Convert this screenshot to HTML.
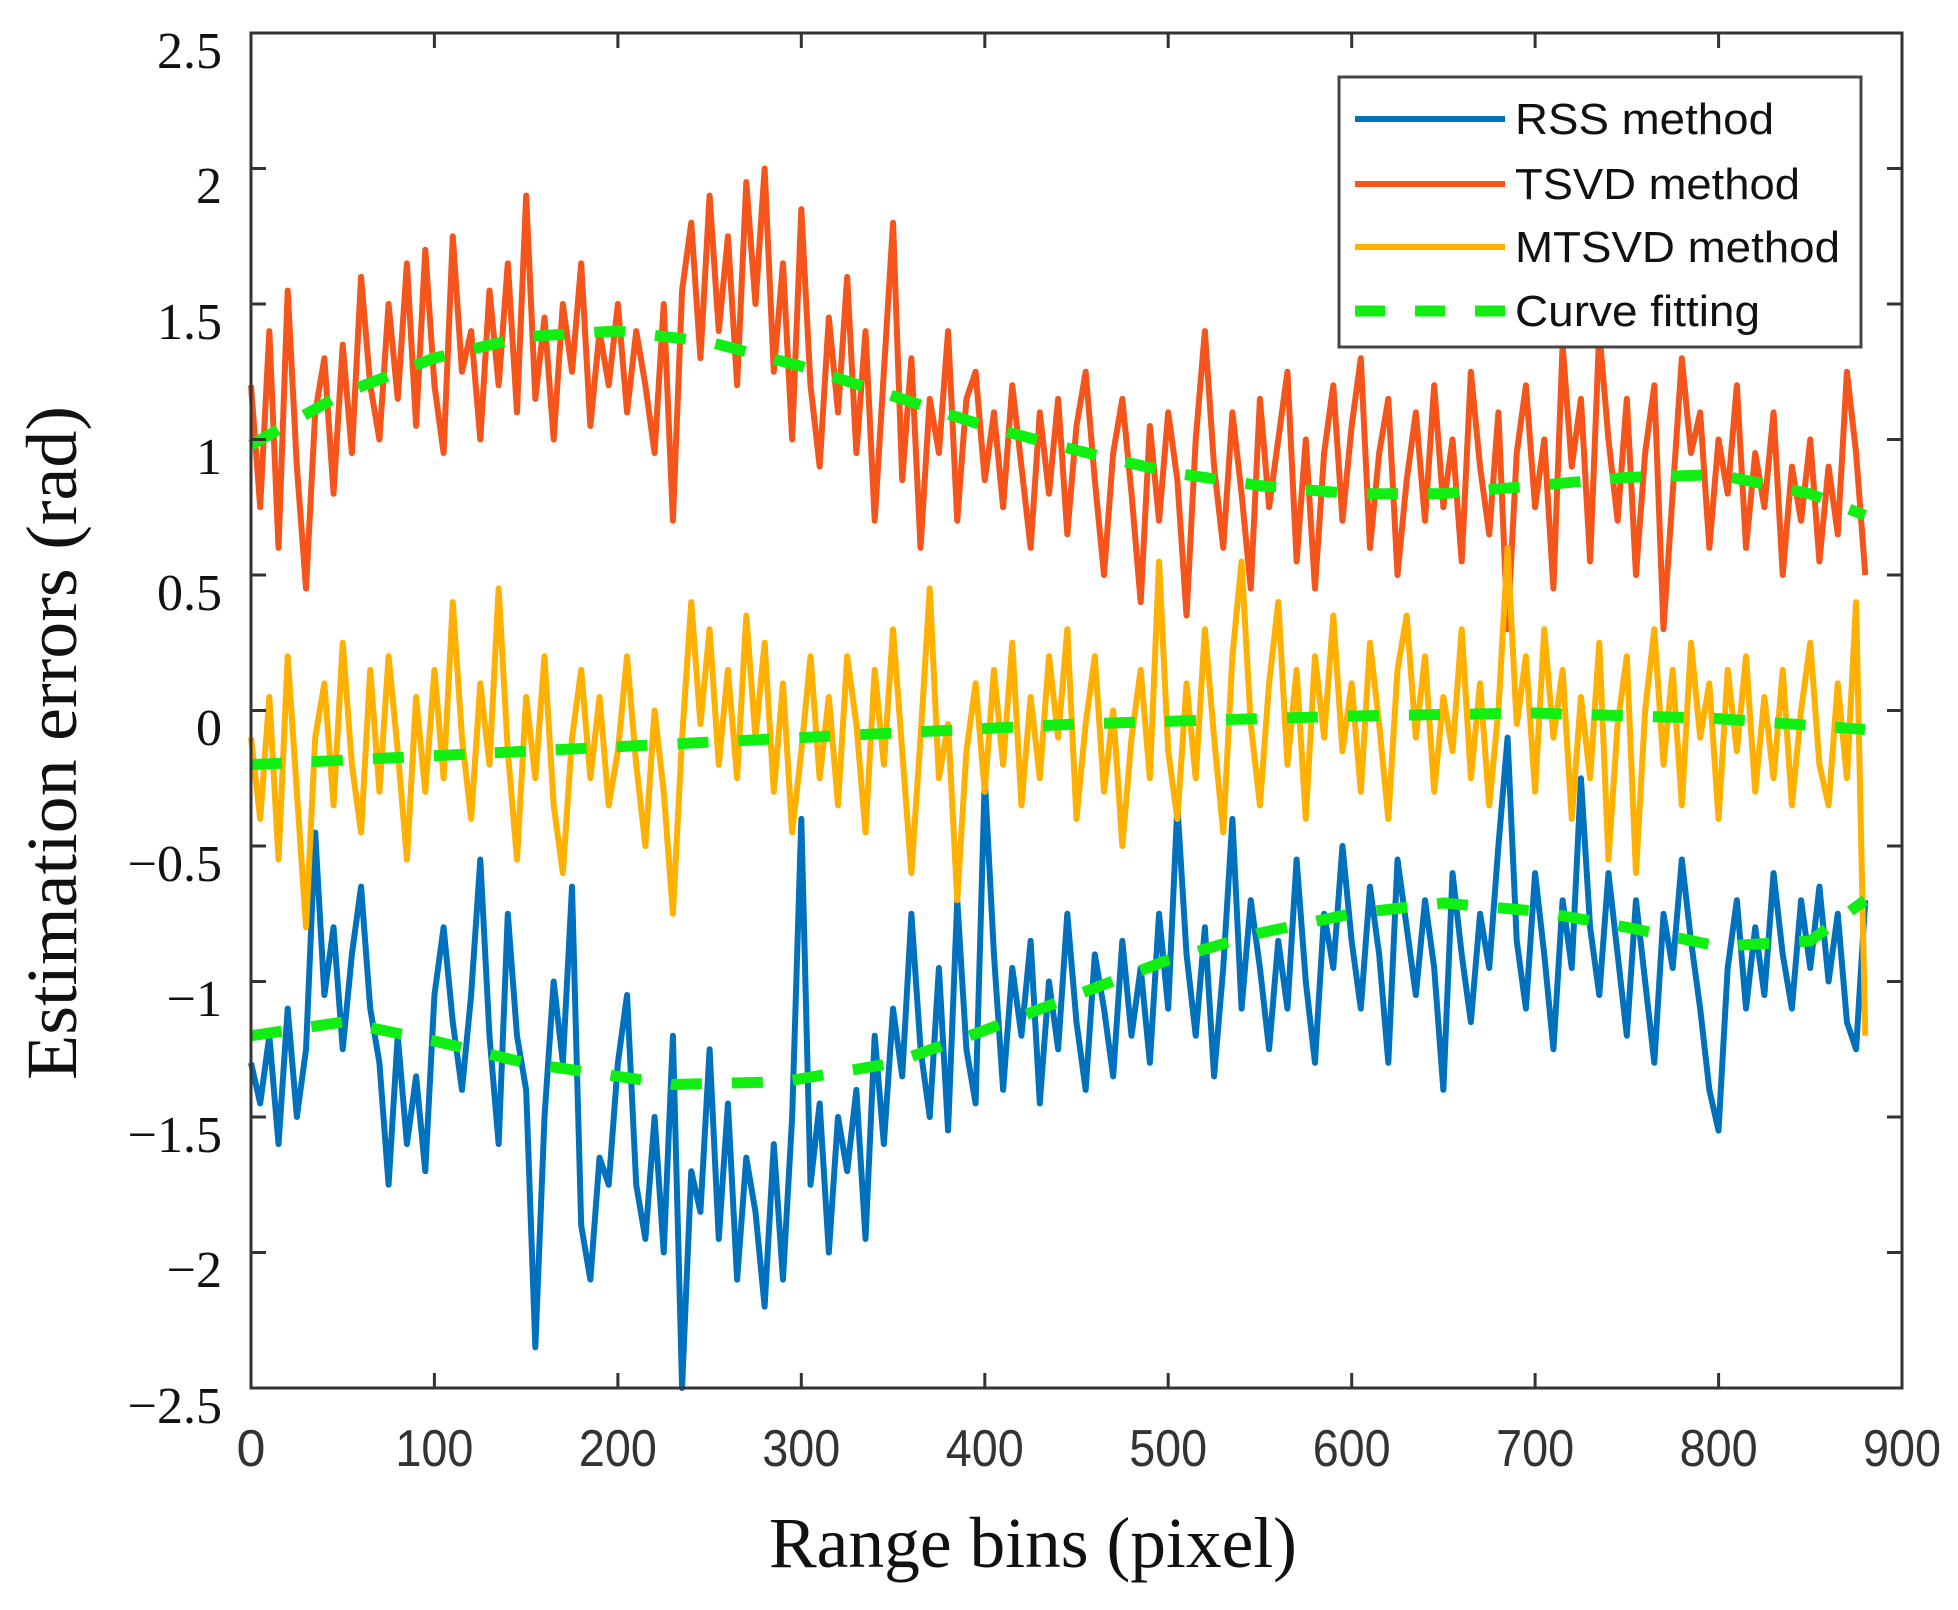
<!DOCTYPE html>
<html><head><meta charset="utf-8"><style>
html,body{margin:0;padding:0;background:#fff;}
svg{display:block;}
</style></head><body>
<svg width="1958" height="1610" xmlns="http://www.w3.org/2000/svg">
<rect width="1958" height="1610" fill="#fff"/>
<g transform="matrix(1.8344 0 0 -2.71 251 710.5)" fill="none" stroke-linejoin="round">
<polyline vector-effect="non-scaling-stroke" stroke="#0072BD" stroke-width="6" points="0,-130 5,-145 10,-120 15,-160 20,-110 25,-150 30,-125 35,-45 40,-105 45,-80 50,-125 55,-90 60,-65 65,-110 70,-130 75,-175 80,-120 85,-160 90,-135 95,-170 100,-105 105,-80 110,-115 115,-140 120,-105 125,-55 130,-120 135,-160 140,-75 145,-120 150,-140 155,-235 160,-150 165,-100 170,-130 175,-65 180,-190 185,-210 190,-165 195,-175 200,-130 205,-105 210,-175 215,-195 220,-150 225,-200 230,-120 235,-250 240,-170 245,-185 250,-125 255,-195 260,-145 265,-210 270,-165 275,-185 280,-220 285,-160 290,-210 295,-150 300,-40 305,-175 310,-145 315,-200 320,-150 325,-170 330,-140 335,-195 340,-120 345,-160 350,-110 355,-135 360,-75 365,-125 370,-150 375,-95 380,-155 385,-70 390,-125 395,-145 400,-25 405,-90 410,-140 415,-95 420,-120 425,-85 430,-145 435,-100 440,-125 445,-75 450,-115 455,-140 460,-90 465,-110 470,-135 475,-85 480,-120 485,-95 490,-130 495,-75 500,-110 505,-35 510,-90 515,-120 520,-80 525,-135 530,-95 535,-40 540,-110 545,-70 550,-95 555,-125 560,-85 565,-110 570,-55 575,-100 580,-130 585,-75 590,-95 595,-50 600,-85 605,-110 610,-65 615,-90 620,-130 625,-55 630,-80 635,-105 640,-70 645,-95 650,-140 655,-60 660,-90 665,-115 670,-75 675,-95 680,-50 685,-10 690,-85 695,-110 700,-60 705,-90 710,-125 715,-70 720,-95 725,-25 730,-80 735,-105 740,-60 745,-90 750,-120 755,-70 760,-100 765,-130 770,-75 775,-95 780,-55 785,-85 790,-110 795,-140 800,-155 805,-95 810,-70 815,-110 820,-80 825,-105 830,-60 835,-90 840,-110 845,-70 850,-95 855,-65 860,-100 865,-75 870,-115 875,-125 880,-70"/>
<polyline vector-effect="non-scaling-stroke" stroke="#F5541A" stroke-width="6" points="0,120 5,75 10,140 15,60 20,155 25,90 30,45 35,110 40,130 45,80 50,135 55,95 60,160 65,120 70,100 75,150 80,115 85,165 90,105 95,170 100,120 105,95 110,175 115,125 120,140 125,100 130,155 135,120 140,165 145,110 150,190 155,115 160,145 165,100 170,150 175,125 180,165 185,105 190,140 195,120 200,150 205,110 210,140 215,120 220,95 225,150 230,70 235,155 240,180 245,130 250,190 255,140 260,175 265,120 270,195 275,150 280,200 285,125 290,165 295,100 300,185 305,120 310,90 315,145 320,110 325,160 330,95 335,140 340,70 345,125 350,180 355,85 360,130 365,60 370,115 375,95 380,140 385,70 390,115 395,125 400,85 405,110 410,75 415,120 420,90 425,60 430,110 435,80 440,115 445,65 450,105 455,125 460,85 465,50 470,95 475,115 480,80 485,40 490,105 495,70 500,110 505,85 510,35 515,100 520,140 525,90 530,60 535,110 540,80 545,45 550,115 555,75 560,100 565,125 570,55 575,100 580,45 585,95 590,120 595,70 600,105 605,130 610,60 615,95 620,115 625,50 630,85 635,110 640,70 645,120 650,75 655,100 660,55 665,125 670,90 675,65 680,110 685,30 690,95 695,120 700,75 705,100 710,45 715,135 720,90 725,115 730,55 735,140 740,100 745,70 750,115 755,50 760,95 765,120 770,30 775,80 780,130 785,95 790,110 795,60 800,100 805,80 810,120 815,60 820,95 825,75 830,110 835,50 840,90 845,70 850,100 855,55 860,90 865,65 870,125 875,95 880,50"/>
<polyline vector-effect="non-scaling-stroke" stroke="#FFB000" stroke-width="6" points="0,-10 5,-40 10,5 15,-55 20,20 25,-30 30,-80 35,-10 40,10 45,-35 50,25 55,-20 60,-45 65,15 70,-30 75,20 80,-15 85,-55 90,5 95,-30 100,15 105,-25 110,40 115,-10 120,-40 125,10 130,-20 135,45 140,-15 145,-55 150,5 155,-25 160,20 165,-35 170,-60 175,-10 180,15 185,-25 190,5 195,-35 200,-15 205,20 210,-20 215,-50 220,0 225,-30 230,-75 235,-10 240,40 245,-5 250,30 255,-20 260,15 265,-25 270,35 275,-10 280,25 285,-30 290,10 295,-45 300,-15 305,20 310,-25 315,5 320,-35 325,20 330,-5 335,-45 340,15 345,-20 350,30 355,-15 360,-60 365,-10 370,45 375,-25 380,-5 385,-70 390,-15 395,10 400,-30 405,15 410,-20 415,25 420,-35 425,5 430,-25 435,20 440,-10 445,30 450,-40 455,-5 460,20 465,-30 470,0 475,-50 480,-10 485,15 490,-25 495,55 500,-15 505,-40 510,10 515,-25 520,30 525,-10 530,-45 535,20 540,55 545,-5 550,-35 555,10 560,40 565,-20 570,15 575,-40 580,20 585,-10 590,35 595,-15 600,10 605,-30 610,25 615,-5 620,-40 625,15 630,35 635,-10 640,20 645,-30 650,5 655,-15 660,30 665,-25 670,10 675,-35 680,0 685,60 690,-5 695,20 700,-30 705,30 710,-10 715,15 720,-40 725,5 730,-25 735,25 740,-55 745,-5 750,20 755,-60 760,0 765,30 770,-20 775,15 780,-35 785,25 790,-10 795,10 800,-40 805,15 810,-15 815,20 820,-30 825,5 830,-25 835,15 840,-35 845,0 850,25 855,-20 860,-35 865,10 870,-25 875,40 880,-120"/>
</g>
<g fill="none" stroke="#11EE11" stroke-width="11" stroke-dasharray="31,30" stroke-linejoin="round">
<polyline points="251,445 343,393.4 434.4,358 526,336.5 618,331 709.6,342 801,366.3 893,396 984.8,426 1076.5,450.3 1168,472 1260,485.6 1351.6,493.7 1443,493.7 1535,485.6 1626.8,477.4 1718.5,474.7 1810,493.7 1865,515.4"/>
<polyline points="251,764.7 526,751.2 801,737.6 1076.5,724 1351.6,716 1535,713 1718.5,718.6 1865,729.5"/>
<polyline points="251,1035.7 343,1022 434.4,1041 526,1063 673,1084.5 783,1081.8 893,1063 984.8,1030.3 1076.5,995 1168,960 1260,933 1351.6,913.8 1443,903 1535,911 1626.8,927.3 1718.5,946.3 1810,941 1865,900.2"/>
</g>
<g stroke="#333" stroke-width="3" fill="none">
<rect x="251" y="33" width="1651" height="1355"/>
<path d="M251,1388v-15M434.4,1388v-15M617.9,1388v-15M801.3,1388v-15M984.8,1388v-15M1168.2,1388v-15M1351.7,1388v-15M1535.1,1388v-15M1718.6,1388v-15M1902,1388v-15
M251,33v15M434.4,33v15M617.9,33v15M801.3,33v15M984.8,33v15M1168.2,33v15M1351.7,33v15M1535.1,33v15M1718.6,33v15M1902,33v15
M251,33h15M251,168.5h15M251,304h15M251,439.5h15M251,575h15M251,710.5h15M251,846h15M251,981.5h15M251,1117h15M251,1252.5h15M251,1388h15
M1902,33h-15M1902,168.5h-15M1902,304h-15M1902,439.5h-15M1902,575h-15M1902,710.5h-15M1902,846h-15M1902,981.5h-15M1902,1117h-15M1902,1252.5h-15M1902,1388h-15"/>
</g>
<g font-family="Liberation Serif, serif" font-size="52" fill="#111" text-anchor="end">
<text x="222" y="68">2.5</text>
<text x="222" y="203">2</text>
<text x="222" y="339">1.5</text>
<text x="222" y="474">1</text>
<text x="222" y="610">0.5</text>
<text x="222" y="745">0</text>
<text x="222" y="881">−0.5</text>
<text x="222" y="1016">−1</text>
<text x="222" y="1152">−1.5</text>
<text x="222" y="1287">−2</text>
<text x="222" y="1423">−2.5</text>
</g>
<g font-family="Liberation Sans, sans-serif" font-size="52" fill="#333" text-anchor="middle">
<text x="251" y="1466">0</text>
<text x="434.4" y="1466" textLength="78" lengthAdjust="spacingAndGlyphs">100</text>
<text x="617.9" y="1466" textLength="78" lengthAdjust="spacingAndGlyphs">200</text>
<text x="801.3" y="1466" textLength="78" lengthAdjust="spacingAndGlyphs">300</text>
<text x="984.8" y="1466" textLength="78" lengthAdjust="spacingAndGlyphs">400</text>
<text x="1168.2" y="1466" textLength="78" lengthAdjust="spacingAndGlyphs">500</text>
<text x="1351.7" y="1466" textLength="78" lengthAdjust="spacingAndGlyphs">600</text>
<text x="1535.1" y="1466" textLength="78" lengthAdjust="spacingAndGlyphs">700</text>
<text x="1718.6" y="1466" textLength="78" lengthAdjust="spacingAndGlyphs">800</text>
<text x="1902" y="1466" textLength="78" lengthAdjust="spacingAndGlyphs">900</text>
</g>
<text x="1033" y="1567" font-family="Liberation Serif, serif" font-size="72" fill="#111" text-anchor="middle" textLength="528" lengthAdjust="spacingAndGlyphs">Range bins (pixel)</text>
<text transform="translate(76,743) rotate(-90)" font-family="Liberation Serif, serif" font-size="72" fill="#111" text-anchor="middle" textLength="674" lengthAdjust="spacingAndGlyphs">Estimation errors (rad)</text>
<rect x="1339" y="77" width="522" height="270" fill="#fff" stroke="#444" stroke-width="3"/>
<line x1="1355" y1="119" x2="1505" y2="119" stroke="#0072BD" stroke-width="6"/>
<line x1="1355" y1="184" x2="1505" y2="184" stroke="#F5541A" stroke-width="6"/>
<line x1="1355" y1="247" x2="1505" y2="247" stroke="#FFB000" stroke-width="6"/>
<line x1="1355" y1="311" x2="1505" y2="311" stroke="#11EE11" stroke-width="11" stroke-dasharray="30,30"/>
<g font-family="Liberation Sans, sans-serif" font-size="44" fill="#111">
<text x="1515" y="134" textLength="259" lengthAdjust="spacingAndGlyphs">RSS method</text>
<text x="1515" y="199" textLength="285" lengthAdjust="spacingAndGlyphs">TSVD method</text>
<text x="1515" y="262" textLength="325" lengthAdjust="spacingAndGlyphs">MTSVD method</text>
<text x="1515" y="326" textLength="245" lengthAdjust="spacingAndGlyphs">Curve fitting</text>
</g>
</svg>
</body></html>
